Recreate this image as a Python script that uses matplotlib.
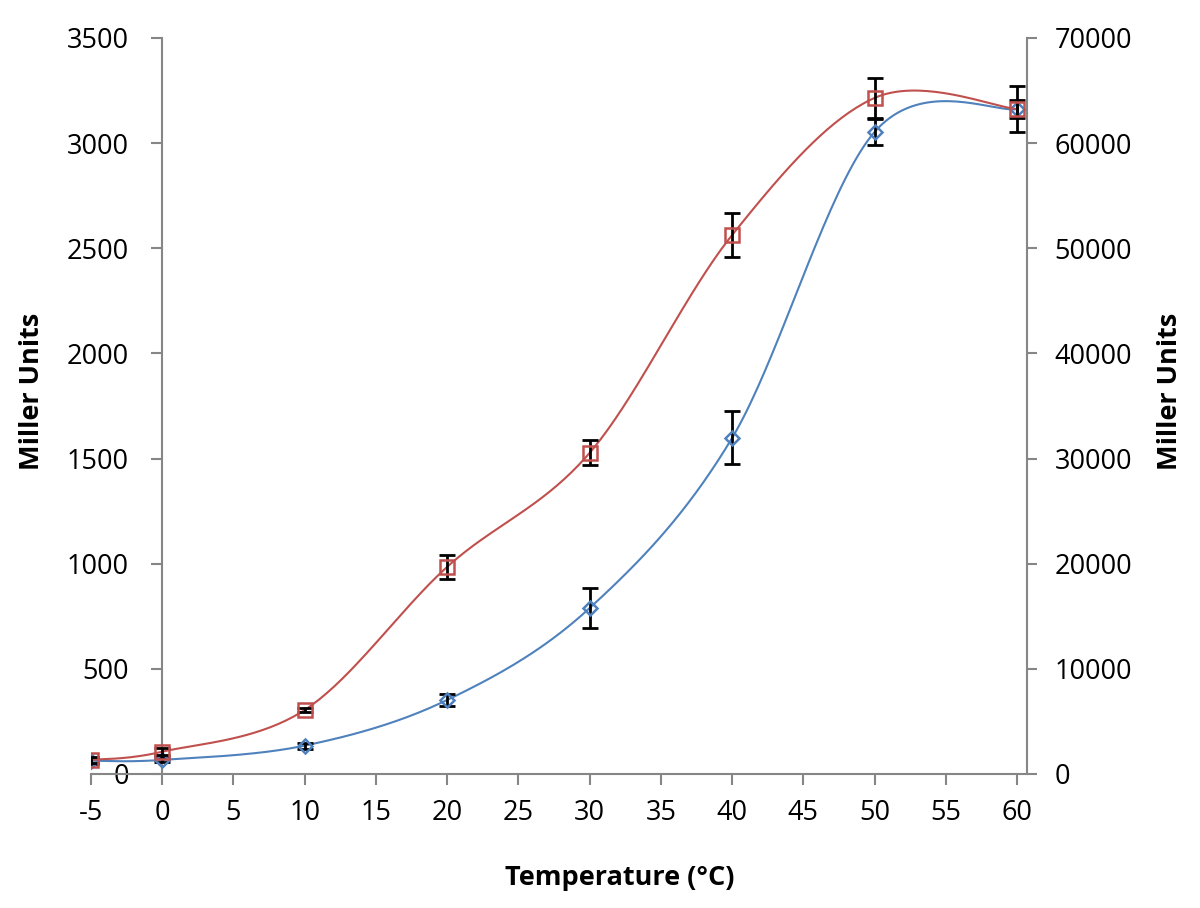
import numpy as np
import matplotlib.pyplot as plt

plt.rcParams['font.family'] = ['Open Sans', 'DejaVu Sans']
plt.rcParams['axes.unicode_minus'] = False

# temperatures (deg C)
temp = [-5, 0, 10, 20, 30, 40, 50, 60]
# series on the left axis (blue diamonds)
blue_mu = [63, 67, 135, 352, 789, 1598, 3053, 3162]
blue_err = [14, 12, 14, 30, 95, 126, 64, 43]
# series on the right axis (red squares)
red_mu = [1340, 2120, 6090, 19700, 30540, 51260, 64300, 63240]
red_err = [300, 350, 150, 1140, 1190, 2100, 1940, 2190]

left_ticks = [0, 500, 1000, 1500, 2000, 2500, 3000, 3500]
right_ticks = [0, 10000, 20000, 30000, 40000, 50000, 60000, 70000]
x_ticks = [-5, 0, 5, 10, 15, 20, 25, 30, 35, 40, 45, 50, 55, 60]

XLIM = (-5, 60.7)
AX_W, AX_H = 936, 736  # axes size in pixels, used for screen-space smoothing


def smooth(xs, ys, ylim, n=40):
    """Excel-style smoothed line (Catmull-Rom bezier in screen space)"""
    px = (np.array(xs, float) - XLIM[0]) / (XLIM[1] - XLIM[0]) * AX_W
    py = (np.array(ys, float) - ylim[0]) / (ylim[1] - ylim[0]) * AX_H
    P = np.column_stack([px, py])
    P_ext = np.vstack([P[0], P, P[-1]])
    t = np.linspace(0, 1, n)[:, None]
    out = []
    for i in range(len(P) - 1):
        p0, p1, p2, p3 = P_ext[i], P_ext[i + 1], P_ext[i + 2], P_ext[i + 3]
        c1 = p1 + (p2 - p0) / 6
        c2 = p2 - (p3 - p1) / 6
        seg = ((1 - t) ** 3) * p1 + 3 * ((1 - t) ** 2) * t * c1 + 3 * (1 - t) * t ** 2 * c2 + t ** 3 * p2
        out.append(seg if i == 0 else seg[1:])
    out = np.vstack(out)
    sx = out[:, 0] / AX_W * (XLIM[1] - XLIM[0]) + XLIM[0]
    sy = out[:, 1] / AX_H * (ylim[1] - ylim[0]) + ylim[0]
    return sx, sy


BLUE = '#4F81BD'
RED = '#C0504D'
GREY = '#868686'

fig = plt.figure(figsize=(12, 9.08), dpi=100)
ax = fig.add_axes([91 / 1200, 134 / 908, 936 / 1200, 736 / 908])
ax2 = ax.twinx()

ylim1 = (0, 3500)
ylim2 = (0, 70000)

# smoothed lines
bx, by = smooth(temp, blue_mu, ylim1)
ax.plot(bx, by, color=BLUE, lw=1.5, zorder=3)
rx, ry = smooth(temp, red_mu, ylim2)
ax2.plot(rx, ry, color=RED, lw=1.5, zorder=3)

# error bars and markers
ax.errorbar(temp, blue_mu, yerr=blue_err, fmt='none', ecolor='black',
            elinewidth=2, capsize=6, capthick=2, zorder=4)
ax.plot(temp, blue_mu, 'D', ms=7, mfc='none', mec=BLUE, mew=1.8, zorder=5)
ax2.errorbar(temp, red_mu, yerr=red_err, fmt='none', ecolor='black',
             elinewidth=2, capsize=6, capthick=2, zorder=4)
ax2.plot(temp, red_mu, 's', ms=10, mfc='none', mec=RED, mew=1.8, zorder=5)

ax.set_xlim(*XLIM)
ax.set_ylim(*ylim1)
ax2.set_ylim(*ylim2)

ax.set_xticks(x_ticks)
ax.set_yticks(left_ticks)
ax2.set_yticks(right_ticks)

for s in ['top', 'right']:
    ax.spines[s].set_visible(False)
for s in ['top', 'left', 'bottom']:
    ax2.spines[s].set_visible(False)
ax.spines['left'].set_position(('data', 0))
ax.spines['left'].set_color(GREY)
ax.spines['bottom'].set_color(GREY)
ax2.spines['right'].set_color(GREY)
for sp in [ax.spines['left'], ax.spines['bottom'], ax2.spines['right']]:
    sp.set_linewidth(1.5)

ax.tick_params(axis='x', direction='out', length=8, width=1.5, color=GREY,
               labelsize=19.5, pad=10)
ax.tick_params(axis='y', direction='out', length=8, width=1.5, color=GREY,
               labelsize=19.5, pad=16)
ax2.tick_params(axis='y', direction='out', length=7, width=1.5, color=GREY,
                labelsize=19.5, pad=13)

lab = dict(fontsize=19.5, fontweight='bold', ha='center', va='center')
fig.text(620 / 1200, 1 - 878 / 908, 'Temperature (°C)', **lab)
fig.text(32 / 1200, 1 - 391 / 908, 'Miller Units', rotation=90, **lab)
fig.text(1170 / 1200, 1 - 391 / 908, 'Miller Units', rotation=90, **lab)

fig.savefig('out.png', dpi=100)
